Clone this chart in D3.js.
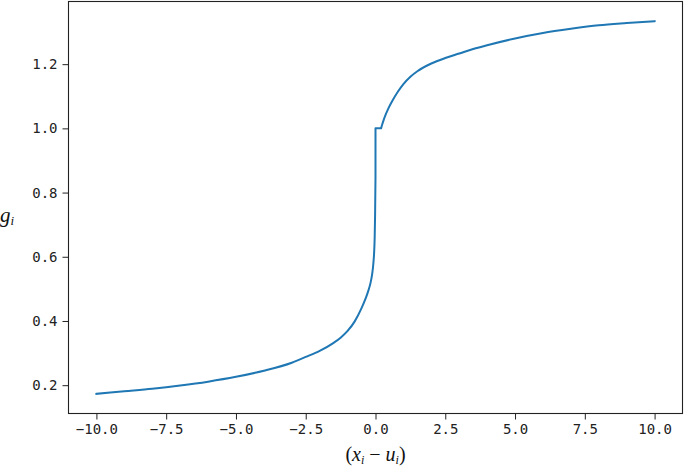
<!DOCTYPE html>
<html>
<head>
<meta charset="utf-8">
<script src="https://cdn.jsdelivr.net/npm/d3@7"></script>
<style>
  html, body { margin: 0; padding: 0; background: #fff; }
  svg { display: block; }
</style>
</head>
<body>
<script>
// ---- data ----
// left branch (x < 0), ends just below the jump at x = 0
const xLeft = [-10, -9, -8, -7, -6, -5, -4, -3, -2.5, -2, -1.5, -1.25, -1, -0.75, -0.5, -0.35, -0.25, -0.18, -0.12, -0.08, -0.05, -0.03, -0.015, 0];
const gLeft = [0.173, 0.181, 0.189, 0.199, 0.211, 0.226, 0.245, 0.270, 0.288, 0.307, 0.332, 0.348, 0.369, 0.398, 0.440, 0.471, 0.496, 0.518, 0.546, 0.576, 0.612, 0.658, 0.728, 0.850];
// plateau at g = 1 around x = 0
const xFlat = [0, 0, 0.2];
const gFlat = [0.850, 1.0, 1.0];
// right branch (x > 0)
const xRight = [0.2, 0.24, 0.3, 0.36, 0.45, 0.6, 0.8, 1.0, 1.25, 1.5, 2, 2.5, 3, 3.5, 4, 5, 6, 7, 8, 9, 10];
const gRight = [1.0, 1.012, 1.028, 1.042, 1.060, 1.085, 1.114, 1.138, 1.161, 1.178, 1.202, 1.219, 1.233, 1.247, 1.259, 1.280, 1.297, 1.310, 1.321, 1.328, 1.334];
const xTicks = [-10, -7.5, -5, -2.5, 0, 2.5, 5, 7.5, 10];
const yTicks = [0.2, 0.4, 0.6, 0.8, 1.0, 1.2];

const W = 685, H = 467;
const m = { left: 68.5, right: 682.5, top: 1.5, bottom: 413.5 };

const svg = d3.select("body").append("svg").attr("width", W).attr("height", H);

const x = d3.scaleLinear().domain([-11, 11]).range([m.left, m.right]);
const y = d3.scaleLinear().domain([0.1118, 1.3952]).range([m.bottom, m.top]);

const tickFont = "'DejaVu Sans Mono', monospace";

// x axis
const xAxis = d3.axisBottom(x).tickValues(xTicks).tickSizeOuter(0).tickSize(6).tickPadding(5)
  .tickFormat(d => d3.format(".1f")(d).replace("-", "\u2212"));
const gx = svg.append("g").attr("transform", `translate(0,${m.bottom})`).call(xAxis);
gx.select(".domain").remove();
gx.selectAll("line").attr("stroke", "#222").attr("stroke-width", 1);
gx.selectAll("text").attr("font-family", tickFont).attr("font-size", 14).attr("fill", "#222");

// y axis
const yAxis = d3.axisLeft(y).tickValues(yTicks).tickSizeOuter(0).tickSize(6).tickPadding(5)
  .tickFormat(d3.format(".1f"));
const gy = svg.append("g").attr("transform", `translate(${m.left},0)`).call(yAxis);
gy.select(".domain").remove();
gy.selectAll("line").attr("stroke", "#222").attr("stroke-width", 1);
gy.selectAll("text").attr("font-family", tickFont).attr("font-size", 14).attr("fill", "#222");

// frame
svg.append("rect")
  .attr("x", m.left).attr("y", m.top)
  .attr("width", m.right - m.left).attr("height", m.bottom - m.top)
  .attr("fill", "none").attr("stroke", "#222").attr("stroke-width", 1.1);

// curve: smooth branches joined by the straight jump/plateau
const zip = (xs, gs) => xs.map((v, i) => [v, gs[i]]);
const smooth = d3.line().x(d => x(d[0])).y(d => y(d[1])).curve(d3.curveMonotoneX);
const straight = d3.line().x(d => x(d[0])).y(d => y(d[1])).curve(d3.curveLinear);
const dPath = smooth(zip(xLeft, gLeft))
  + straight(zip(xFlat, gFlat)).replace(/^M/, "L")
  + smooth(zip(xRight, gRight)).replace(/^M/, "L");
svg.append("path")
  .attr("d", dPath)
  .attr("fill", "none")
  .attr("stroke", "#1f77b4")
  .attr("stroke-width", 2)
  .attr("stroke-linejoin", "round")
  .attr("stroke-linecap", "square");

// y label g_i
const serif = "'Liberation Serif', 'Times New Roman', serif";
const yl = svg.append("text").attr("x", 0).attr("y", 222)
  .attr("font-family", serif).attr("font-style", "italic").attr("font-size", 21).attr("fill", "#111");
yl.append("tspan").text("g");
yl.append("tspan").attr("dy", 3).attr("font-size", 13).text("i");

// x label (x_i − u_i)
const xl = svg.append("text").attr("x", x(0)).attr("y", 461)
  .attr("text-anchor", "middle")
  .attr("font-family", serif).attr("font-size", 20).attr("fill", "#111");
xl.append("tspan").text("(");
xl.append("tspan").attr("font-style", "italic").text("x");
xl.append("tspan").attr("font-style", "italic").attr("font-size", 12).attr("dy", 3).text("i");
xl.append("tspan").attr("dy", -3).text(" \u2212 ");
xl.append("tspan").attr("font-style", "italic").text("u");
xl.append("tspan").attr("font-style", "italic").attr("font-size", 12).attr("dy", 3).text("i");
xl.append("tspan").attr("dy", -3).text(")");
</script>
</body>
</html>
